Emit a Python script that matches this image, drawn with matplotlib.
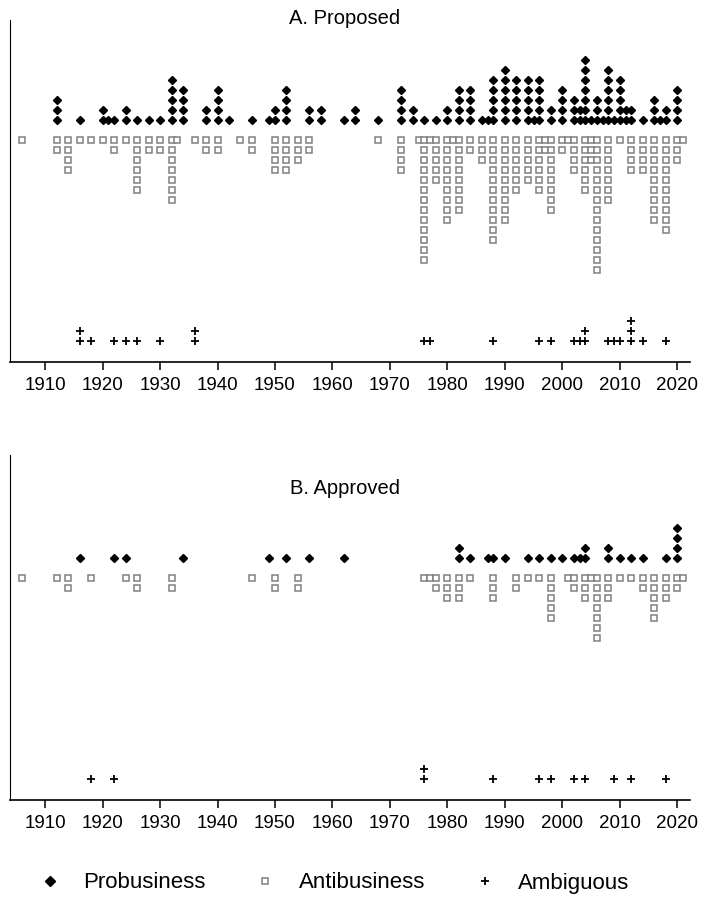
import numpy as np
import matplotlib.pyplot as plt
from matplotlib.lines import Line2D

plt.rcParams['font.family'] = ['Liberation Sans', 'DejaVu Sans']

# Panel A: proposed
a_pro_years = [1912, 1916, 1920, 1921, 1922, 1924, 1926, 1928, 1930, 1932,
               1934, 1938, 1940, 1942, 1946, 1949, 1950, 1952, 1956, 1958,
               1962, 1964, 1968, 1972, 1974, 1976, 1978, 1980, 1982, 1984,
               1986, 1987, 1988, 1990, 1992, 1994, 1995, 1996, 1998, 2000,
               2002, 2003, 2004, 2005, 2006, 2007, 2008, 2009, 2010, 2011,
               2012, 2014, 2016, 2017, 2018, 2020]
a_pro_counts = [3, 1, 2, 1, 1, 2, 1, 1, 1, 5,
                4, 2, 4, 1, 1, 1, 2, 4, 2, 2,
                1, 2, 1, 4, 2, 1, 1, 2, 4, 4,
                1, 1, 5, 6, 5, 5, 1, 5, 2, 4,
                3, 2, 7, 1, 3, 1, 6, 1, 5, 2,
                2, 1, 3, 1, 2, 4]
a_anti_years = [1906, 1912, 1914, 1916, 1918, 1920, 1922, 1924, 1926, 1928,
                1930, 1932, 1933, 1936, 1938, 1940, 1944, 1946, 1950, 1952,
                1954, 1956, 1968, 1972, 1975, 1976, 1977, 1978, 1980, 1981,
                1982, 1984, 1986, 1988, 1990, 1992, 1994, 1996, 1997, 1998,
                2000, 2001, 2002, 2004, 2005, 2006, 2008, 2010, 2012, 2014,
                2016, 2018, 2020, 2021]
a_anti_counts = [1, 2, 4, 1, 1, 1, 2, 1, 6, 2,
                 2, 7, 1, 1, 2, 2, 1, 2, 4, 4,
                 3, 2, 1, 4, 1, 13, 1, 5, 9, 1,
                 8, 2, 3, 11, 9, 6, 5, 6, 2, 8,
                 2, 1, 4, 6, 3, 14, 7, 1, 4, 4,
                 9, 10, 3, 1]
a_amb_years = [1916, 1918, 1922, 1924, 1926, 1930, 1936, 1976, 1977, 1988,
               1996, 1998, 2002, 2003, 2004, 2008, 2009, 2010, 2012, 2014, 2018]
a_amb_counts = [2, 1, 1, 1, 1, 1, 2, 1, 1, 1,
                1, 1, 1, 1, 2, 1, 1, 1, 3, 1, 1]

# Panel B: approved
b_pro_years = [1916, 1922, 1924, 1934, 1949, 1952, 1956, 1962, 1982, 1984,
               1987, 1988, 1990, 1994, 1996, 1998, 2000, 2002, 2003, 2004,
               2008, 2010, 2012, 2014, 2018, 2020]
b_pro_counts = [1, 1, 1, 1, 1, 1, 1, 1, 2, 1,
                1, 1, 1, 1, 1, 1, 1, 1, 1, 2,
                2, 1, 1, 1, 1, 4]
b_anti_years = [1906, 1912, 1914, 1918, 1924, 1926, 1932, 1946, 1950, 1954,
                1976, 1977, 1978, 1980, 1982, 1984, 1988, 1992, 1994, 1996,
                1998, 2001, 2002, 2004, 2005, 2006, 2008, 2010, 2012, 2014,
                2016, 2018, 2020, 2021]
b_anti_counts = [1, 1, 2, 1, 1, 2, 2, 1, 2, 2,
                 1, 1, 2, 3, 3, 1, 3, 2, 1, 1,
                 5, 1, 2, 3, 1, 7, 3, 1, 1, 2,
                 5, 3, 2, 1]
b_amb_years = [1918, 1922, 1976, 1988, 1996, 1998, 2002, 2004, 2009, 2012, 2018]
b_amb_counts = [1, 1, 2, 1, 1, 1, 1, 1, 1, 1, 1]

decades = list(range(1910, 2021, 10))


def stack(years, counts, base, step):
    xs, ys = [], []
    for yr, n in zip(years, counts):
        for k in range(n):
            xs.append(yr)
            ys.append(base + step * k)
    return xs, ys


W, H = 701, 898
fig = plt.figure(figsize=(W / 100, H / 100), dpi=100)

pro_style = dict(marker='D', ms=4.2, color='black', ls='none')
anti_style = dict(marker='s', ms=4.4, mfc='white', mec='#808080', mew=1.1, ls='none')
amb_style = dict(marker='+', ms=5.5, color='black', mew=1.3, ls='none')

panels = [
    (20, 362, 18, 'A. Proposed', (a_pro_years, a_pro_counts),
     (a_anti_years, a_anti_counts), (a_amb_years, a_amb_counts)),
    (455, 800, 488, 'B. Approved', (b_pro_years, b_pro_counts),
     (b_anti_years, b_anti_counts), (b_amb_years, b_amb_counts)),
]

for top, bottom, title_y, title, pro, anti, amb in panels:
    ax = fig.add_axes([10 / W, 1 - bottom / H, 680 / W, (bottom - top) / H])
    x, y = stack(*pro, 24.2, 1)
    ax.plot(x, y, **pro_style)
    x, y = stack(*anti, 22.2, -1)
    ax.plot(x, y, **anti_style)
    x, y = stack(*amb, 2.1, 1)
    ax.plot(x, y, **amb_style)
    ax.set_xlim(1903.9, 2022.2)
    ax.set_ylim(0, (bottom - top) / 10)
    ax.set_xticks(decades)
    ax.set_yticks([])
    ax.tick_params(axis='x', length=5.5, width=1.1, pad=5, labelsize=13.5)
    for s in ['top', 'right']:
        ax.spines[s].set_visible(False)
    ax.spines['bottom'].set_linewidth(1.2)
    ax.spines['left'].set_linewidth(0.8)
    fig.text(345 / W, 1 - title_y / H, title, ha='center', va='center', fontsize=14.5)

handles = [Line2D([], [], **dict(pro_style, ms=5.2)),
           Line2D([], [], **anti_style),
           Line2D([], [], **amb_style)]
fig.legend(handles, ['Probusiness', 'Antibusiness', 'Ambiguous'],
           loc='center left', bbox_to_anchor=(38.9 / W, 1 - 883 / H),
           ncol=3, frameon=False, fontsize=16, handlelength=1.0,
           handletextpad=0.99, columnspacing=2.2, borderpad=0, borderaxespad=0)

fig.savefig('out.png', dpi=100)
